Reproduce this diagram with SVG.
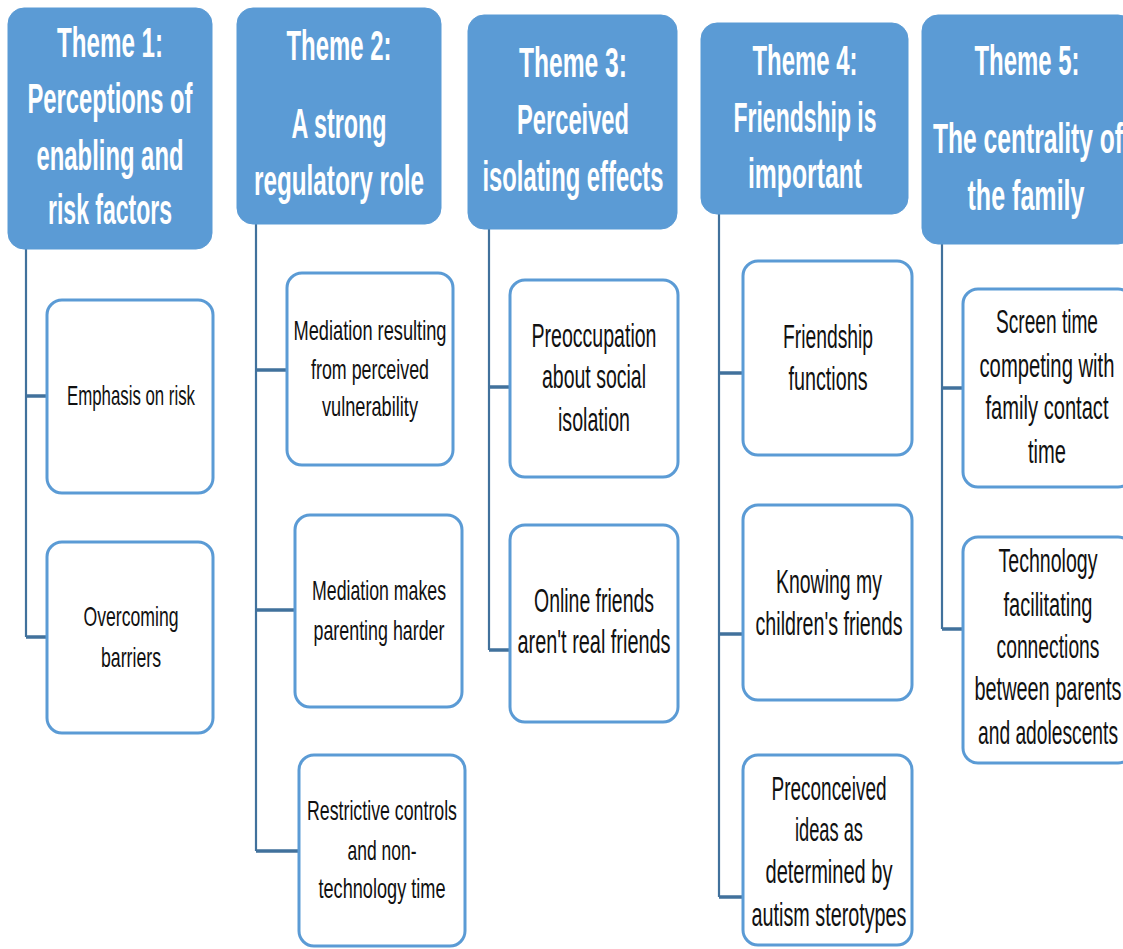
<svg xmlns="http://www.w3.org/2000/svg" width="1123" height="949" viewBox="0 0 1123 949">
  <style>
    .hdr { fill: #5B9BD5; stroke: #5B9BD5; stroke-width: 1; }
    .sub { fill: #FFFFFF; stroke: #5B9BD5; stroke-width: 3; }
    .ht { font-family: "Liberation Sans", Arial, sans-serif; font-size: 42px; font-weight: bold; fill: #FFFFFF; text-anchor: middle; }
    .st { font-family: "Liberation Sans", Arial, sans-serif; font-size: 28px; fill: #111111; text-anchor: middle; }
    .sl { font-family: "Liberation Sans", Arial, sans-serif; font-size: 34px; fill: #111111; text-anchor: middle; }
    .trunk { fill: none; stroke: #41719C; stroke-width: 2.2; }
    .branch { fill: none; stroke: #41719C; stroke-width: 3.5; }
  </style>

  <!-- tree connectors -->
  <g id="connectors">
    <path class="trunk" d="M26 249 V637 M256 224 V851 M489 229 V650 M719 214 V897 M942 244 V629"/>
    <path class="branch" d="M26 396 H47 M26 637 H47"/>
    <path class="branch" d="M256 370 H287 M256 610 H295 M256 851 H299"/>
    <path class="branch" d="M489 387 H510 M489 650 H510"/>
    <path class="branch" d="M719 373 H743 M719 634 H743 M719 897 H743"/>
    <path class="branch" d="M942 388 H963 M942 629 H963"/>
  </g>

  <!-- Theme 1 -->
  <g id="theme1">
    <rect class="hdr" x="8" y="8" width="204" height="241" rx="16"/>
    <text class="ht" x="110" y="57" textLength="106" lengthAdjust="spacingAndGlyphs">Theme 1:</text>
    <text class="ht" x="110" y="113" textLength="165" lengthAdjust="spacingAndGlyphs">Perceptions of</text>
    <text class="ht" x="110" y="170" textLength="147" lengthAdjust="spacingAndGlyphs">enabling and</text>
    <text class="ht" x="110" y="224" textLength="124" lengthAdjust="spacingAndGlyphs">risk factors</text>
  </g>
  <g id="t1-emphasis">
    <rect class="sub" x="47" y="300" width="166" height="193" rx="15"/>
    <text class="st" x="131" y="405" textLength="128" lengthAdjust="spacingAndGlyphs">Emphasis on risk</text>
  </g>
  <g id="t1-barriers">
    <rect class="sub" x="47" y="542" width="166" height="191" rx="15"/>
    <text class="st" x="131" y="626" textLength="95" lengthAdjust="spacingAndGlyphs">Overcoming</text>
    <text class="st" x="131" y="667" textLength="60" lengthAdjust="spacingAndGlyphs">barriers</text>
  </g>

  <!-- Theme 2 -->
  <g id="theme2">
    <rect class="hdr" x="237" y="8" width="204" height="216" rx="16"/>
    <text class="ht" x="339" y="60" textLength="105" lengthAdjust="spacingAndGlyphs">Theme 2:</text>
    <text class="ht" x="339" y="138" textLength="95" lengthAdjust="spacingAndGlyphs">A strong</text>
    <text class="ht" x="339" y="195" textLength="170" lengthAdjust="spacingAndGlyphs">regulatory role</text>
  </g>
  <g id="t2-mediation-vulnerability">
    <rect class="sub" x="287" y="273" width="166" height="192" rx="15"/>
    <text class="st" x="370" y="340" textLength="153" lengthAdjust="spacingAndGlyphs">Mediation resulting</text>
    <text class="st" x="370" y="379" textLength="118" lengthAdjust="spacingAndGlyphs">from perceived</text>
    <text class="st" x="370" y="416" textLength="96" lengthAdjust="spacingAndGlyphs">vulnerability</text>
  </g>
  <g id="t2-mediation-harder">
    <rect class="sub" x="295" y="515" width="167" height="192" rx="15"/>
    <text class="st" x="379" y="600" textLength="134" lengthAdjust="spacingAndGlyphs">Mediation makes</text>
    <text class="st" x="379" y="640" textLength="131" lengthAdjust="spacingAndGlyphs">parenting harder</text>
  </g>
  <g id="t2-restrictive">
    <rect class="sub" x="299" y="755" width="166" height="191" rx="15"/>
    <text class="st" x="382" y="820" textLength="150" lengthAdjust="spacingAndGlyphs">Restrictive controls</text>
    <text class="st" x="382" y="860" textLength="69" lengthAdjust="spacingAndGlyphs">and non-</text>
    <text class="st" x="382" y="898" textLength="127" lengthAdjust="spacingAndGlyphs">technology time</text>
  </g>

  <!-- Theme 3 -->
  <g id="theme3">
    <rect class="hdr" x="468" y="15" width="209" height="214" rx="16"/>
    <text class="ht" x="573" y="77" textLength="108" lengthAdjust="spacingAndGlyphs">Theme 3:</text>
    <text class="ht" x="573" y="134" textLength="112" lengthAdjust="spacingAndGlyphs">Perceived</text>
    <text class="ht" x="573" y="191" textLength="181" lengthAdjust="spacingAndGlyphs">isolating effects</text>
  </g>
  <g id="t3-preoccupation">
    <rect class="sub" x="510" y="280" width="168" height="197" rx="15"/>
    <text class="sl" x="594" y="347" textLength="125" lengthAdjust="spacingAndGlyphs">Preoccupation</text>
    <text class="sl" x="594" y="388" textLength="104" lengthAdjust="spacingAndGlyphs">about social</text>
    <text class="sl" x="594" y="431" textLength="72" lengthAdjust="spacingAndGlyphs">isolation</text>
  </g>
  <g id="t3-online-friends">
    <rect class="sub" x="510" y="525" width="168" height="197" rx="15"/>
    <text class="sl" x="594" y="612" textLength="120" lengthAdjust="spacingAndGlyphs">Online friends</text>
    <text class="sl" x="594" y="653" textLength="153" lengthAdjust="spacingAndGlyphs">aren't real friends</text>
  </g>

  <!-- Theme 4 -->
  <g id="theme4">
    <rect class="hdr" x="701" y="23" width="207" height="191" rx="16"/>
    <text class="ht" x="805" y="75" textLength="105" lengthAdjust="spacingAndGlyphs">Theme 4:</text>
    <text class="ht" x="805" y="132" textLength="143" lengthAdjust="spacingAndGlyphs">Friendship is</text>
    <text class="ht" x="805" y="188" textLength="114" lengthAdjust="spacingAndGlyphs">important</text>
  </g>
  <g id="t4-functions">
    <rect class="sub" x="743" y="261" width="169" height="194" rx="15"/>
    <text class="sl" x="828" y="348" textLength="90" lengthAdjust="spacingAndGlyphs">Friendship</text>
    <text class="sl" x="828" y="390" textLength="79" lengthAdjust="spacingAndGlyphs">functions</text>
  </g>
  <g id="t4-knowing">
    <rect class="sub" x="743" y="505" width="169" height="195" rx="15"/>
    <text class="sl" x="829" y="593" textLength="106" lengthAdjust="spacingAndGlyphs">Knowing my</text>
    <text class="sl" x="829" y="635" textLength="147" lengthAdjust="spacingAndGlyphs">children's friends</text>
  </g>
  <g id="t4-preconceived">
    <rect class="sub" x="743" y="755" width="169" height="190" rx="15"/>
    <text class="sl" x="829" y="800" textLength="115" lengthAdjust="spacingAndGlyphs">Preconceived</text>
    <text class="sl" x="829" y="841" textLength="68" lengthAdjust="spacingAndGlyphs">ideas as</text>
    <text class="sl" x="829" y="883" textLength="127" lengthAdjust="spacingAndGlyphs">determined by</text>
    <text class="sl" x="829" y="926" textLength="155" lengthAdjust="spacingAndGlyphs">autism sterotypes</text>
  </g>

  <!-- Theme 5 -->
  <g id="theme5">
    <rect class="hdr" x="922" y="15" width="212" height="229" rx="16"/>
    <text class="ht" x="1027" y="75" textLength="105" lengthAdjust="spacingAndGlyphs">Theme 5:</text>
    <text class="ht" x="1028" y="153" textLength="190" lengthAdjust="spacingAndGlyphs">The centrality of</text>
    <text class="ht" x="1026" y="210" textLength="117" lengthAdjust="spacingAndGlyphs">the family</text>
  </g>
  <g id="t5-screen-time">
    <rect class="sub" x="963" y="289" width="170" height="198" rx="15"/>
    <text class="sl" x="1047" y="333" textLength="102" lengthAdjust="spacingAndGlyphs">Screen time</text>
    <text class="sl" x="1047" y="377" textLength="135" lengthAdjust="spacingAndGlyphs">competing with</text>
    <text class="sl" x="1047" y="419" textLength="123" lengthAdjust="spacingAndGlyphs">family contact</text>
    <text class="sl" x="1047" y="463" textLength="38" lengthAdjust="spacingAndGlyphs">time</text>
  </g>
  <g id="t5-technology">
    <rect class="sub" x="963" y="537" width="170" height="226" rx="15"/>
    <text class="sl" x="1048" y="572" textLength="99" lengthAdjust="spacingAndGlyphs">Technology</text>
    <text class="sl" x="1048" y="616" textLength="89" lengthAdjust="spacingAndGlyphs">facilitating</text>
    <text class="sl" x="1048" y="658" textLength="103" lengthAdjust="spacingAndGlyphs">connections</text>
    <text class="sl" x="1048" y="700" textLength="147" lengthAdjust="spacingAndGlyphs">between parents</text>
    <text class="sl" x="1048" y="744" textLength="140" lengthAdjust="spacingAndGlyphs">and adolescents</text>
  </g>
</svg>
